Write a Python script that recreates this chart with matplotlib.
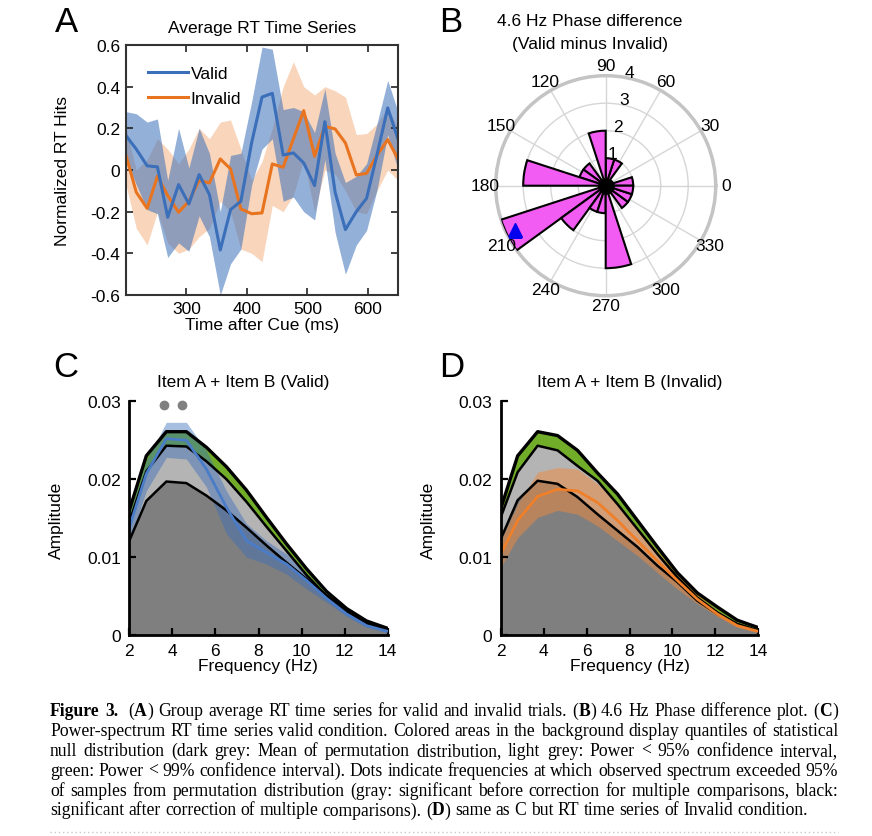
import numpy as np
import matplotlib
matplotlib.use('Agg')
import matplotlib.pyplot as plt
from matplotlib.lines import Line2D

# ---------------- data ----------------
# Panel A: average RT time series
times = [200, 217, 235, 252, 269, 287, 304, 321, 338, 356, 373, 390, 408, 425,
         442, 460, 477, 494, 512, 529, 546, 563, 581, 598, 615, 633, 650]
valid_mean = [0.165, 0.10, 0.02, 0.015, -0.227, -0.07, -0.163, -0.022, -0.118, -0.384,
              -0.19, -0.15, 0.133, 0.35, 0.368, 0.072, 0.082, 0.034, -0.075, 0.232,
              -0.107, -0.286, -0.20, -0.136, 0.07, 0.298, 0.149]
valid_hi = [0.28, 0.27, 0.23, 0.245, -0.05, 0.20, 0.01, 0.20, 0.08, -0.20, 0.07, 0.08,
            0.33, 0.59, 0.58, 0.29, 0.30, 0.28, 0.18, 0.39, 0.08, -0.06, -0.03, 0.03,
            0.22, 0.43, 0.28]
valid_lo = [0.05, -0.07, -0.19, -0.21, -0.42, -0.35, -0.39, -0.22, -0.32, -0.60, -0.45,
            -0.38, -0.07, 0.10, 0.15, -0.15, -0.13, -0.20, -0.24, 0.05, -0.30, -0.50,
            -0.36, -0.29, -0.10, 0.17, 0.0]
invalid_mean = [0.07, -0.107, -0.184, -0.03, -0.123, -0.203, -0.15, -0.05, -0.062, 0.053,
                0.005, -0.187, -0.21, -0.206, 0.029, 0.013, 0.15, 0.285, 0.066, 0.21,
                0.197, 0.13, -0.024, -0.016, 0.069, 0.146, 0.053]
invalid_hi = [0.20, 0.00, 0.05, 0.15, 0.10, 0.03, 0.10, 0.20, 0.15, 0.23, 0.24, 0.10,
              -0.05, 0.04, 0.20, 0.40, 0.52, 0.40, 0.36, 0.40, 0.38, 0.35, 0.17, 0.175,
              0.22, 0.30, 0.20]
invalid_lo = [-0.07, -0.28, -0.36, -0.20, -0.35, -0.40, -0.38, -0.32, -0.28, -0.15, -0.20,
              -0.38, -0.40, -0.44, -0.17, -0.20, -0.12, 0.05, -0.20, 0.00, -0.02, -0.10,
              -0.20, -0.21, -0.10, 0.00, -0.05]

# Panel B: phase-difference histogram (18-degree bins starting at 0)
bin_starts_deg = [0, 18, 36, 54, 72, 90, 108, 126, 144, 162,
                  180, 198, 216, 234, 252, 270, 288, 306, 324, 342]
phase_counts = [1, 0, 0, 1, 1, 2, 0, 1, 1, 3, 0, 4, 2, 1, 1, 3, 0, 1, 1, 1]
mean_phase_deg = 206
mean_phase_r = 3.65
theta_labels = ['0', '30', '60', '90', '120', '150', '180', '210', '240', '270', '300', '330']
r_labels = ['1', '2', '3', '4']

# Panels C/D: power spectra
freqs = [2.0, 2.79, 3.72, 4.65, 5.58, 6.51, 7.44, 8.37, 9.30, 10.23, 11.16, 12.09, 13.02, 13.95]
c_null99 = [0.0160, 0.0230, 0.0261, 0.0261, 0.0241, 0.0216, 0.0186, 0.0151, 0.0117, 0.0085, 0.0056, 0.0034, 0.0018, 0.0009]
c_null95 = [0.0145, 0.0210, 0.0243, 0.0242, 0.0223, 0.0200, 0.0171, 0.0139, 0.0108, 0.0077, 0.0050, 0.0030, 0.0015, 0.0007]
c_nullmean = [0.0121, 0.0172, 0.0197, 0.0195, 0.0179, 0.0160, 0.0138, 0.0115, 0.0093, 0.0072, 0.0051, 0.0031, 0.0016, 0.0008]
c_obs = [0.0138, 0.0207, 0.0252, 0.0250, 0.0213, 0.0164, 0.0121, 0.0106, 0.0091, 0.0070, 0.0047, 0.0027, 0.0012, 0.0005]
c_obs_hi = [0.0155, 0.0224, 0.0273, 0.0273, 0.0237, 0.0185, 0.0143, 0.0121, 0.0104, 0.0078, 0.0051, 0.0031, 0.0015, 0.0006]
c_obs_lo = [0.0121, 0.0185, 0.0228, 0.0226, 0.0190, 0.0130, 0.0100, 0.0091, 0.0078, 0.0059, 0.0042, 0.0024, 0.0010, 0.0003]
sig_freqs = [3.6, 4.45]
sig_level = 0.0295

d_null99 = [0.0162, 0.0230, 0.0261, 0.0256, 0.0237, 0.0208, 0.0181, 0.0147, 0.0113, 0.0080, 0.0054, 0.0036, 0.0019, 0.0010]
d_null95 = [0.0151, 0.0209, 0.0243, 0.0237, 0.0217, 0.0198, 0.0168, 0.0136, 0.0104, 0.0074, 0.0048, 0.0029, 0.0014, 0.0006]
d_nullmean = [0.0123, 0.0173, 0.0198, 0.0194, 0.0177, 0.0155, 0.0134, 0.0113, 0.0089, 0.0068, 0.0044, 0.0027, 0.0014, 0.0006]
d_obs = [0.0104, 0.0147, 0.0178, 0.0187, 0.0185, 0.0170, 0.0147, 0.0121, 0.0095, 0.0070, 0.0046, 0.0027, 0.0012, 0.0005]
d_obs_hi = [0.0121, 0.0168, 0.0209, 0.0215, 0.0213, 0.0194, 0.0168, 0.0138, 0.0108, 0.0078, 0.0053, 0.0031, 0.0015, 0.0006]
d_obs_lo = [0.0087, 0.0125, 0.0151, 0.0160, 0.0155, 0.0140, 0.0121, 0.0102, 0.0080, 0.0059, 0.0040, 0.0024, 0.0010, 0.0003]

caption_lines = [
    [("Figure 3.", True), ("  (", False), ("A", True),
     (") Group average RT time series for valid and invalid trials. (", False), ("B", True),
     (") 4.6 Hz Phase difference plot. (", False), ("C", True), (")", False)],
    [("Power-spectrum RT time series valid condition. Colored areas in the background display quantiles of statistical", False)],
    [("null distribution (dark grey: Mean of permutation distribution, light grey: Power < 95% confidence interval,", False)],
    [("green: Power < 99% confidence interval). Dots indicate frequencies at which observed spectrum exceeded 95%", False)],
    [("of samples from permutation distribution (gray: significant before correction for multiple comparisons, black:", False)],
    [("significant after correction of multiple comparisons). (", False), ("D", True),
     (") same as C but RT time series of Invalid condition.", False)],
]

# ---------------- figure ----------------
W, H = 872, 837
plt.rcParams['font.family'] = ['Liberation Sans', 'DejaVu Sans']
fig = plt.figure(figsize=(W / 100, H / 100), dpi=100)
FS = 12.5


def rect(l, t, r, b):
    return [l / W, 1 - b / H, (r - l) / W, (b - t) / H]


def ftext(x, y, s, **kw):
    kw.setdefault('ha', 'center')
    kw.setdefault('va', 'center')
    kw.setdefault('fontsize', FS)
    return fig.text(x / W, 1 - y / H, s, **kw)


BLUE = '#3b6fba'
ORANGE = '#e8741f'

# ---------------- Panel A ----------------
axA = fig.add_axes(rect(126, 46, 398, 296))
axA.fill_between(times, invalid_lo, invalid_hi, color=ORANGE, alpha=0.3, lw=0)
axA.plot(times, invalid_mean, color=ORANGE, lw=2.2, label='Invalid')
axA.fill_between(times, valid_lo, valid_hi, color=BLUE, alpha=0.55, lw=0)
axA.plot(times, valid_mean, color=BLUE, lw=2.2, label='Valid')
axA.set_xlim(200, 650)
axA.set_ylim(-0.6, 0.6)
axA.set_xticks([300, 400, 500, 600])
axA.set_yticks([-0.6, -0.4, -0.2, 0, 0.2, 0.4, 0.6])
axA.set_yticklabels(['-0.6', '-0.4', '-0.2', '0', '0.2', '0.4', '0.6'])
axA.tick_params(direction='in', top=True, right=True, length=5, width=1.2,
                labelsize=FS, pad=4, colors='#222222', labelcolor='black')
for sp in axA.spines.values():
    sp.set_linewidth(1.5)
    sp.set_color('#333333')
h, l = axA.get_legend_handles_labels()
axA.legend([h[1], h[0]], [l[1], l[0]], loc='upper left', bbox_to_anchor=(0.082, 0.915),
           frameon=False, fontsize=FS, handlelength=2.3, handletextpad=0.15,
           labelspacing=0.55, borderaxespad=0, borderpad=0)
ftext(262, 28, 'Average RT Time Series')
ftext(262, 326, 'Time after Cue (ms)')
ftext(62, 171, 'Normalized RT Hits', rotation=90)
ftext(66, 22, 'A', fontsize=25)

# ---------------- Panel B ----------------
cx, cy, R = 605.7, 186.7, 110
axB = fig.add_axes(rect(cx - R, cy - R, cx + R, cy + R), projection='polar')
axB.set_axisbelow(True)
axB.bar(np.deg2rad(bin_starts_deg), phase_counts, width=np.deg2rad(18), align='edge',
        color='#f25cf2', edgecolor='black', linewidth=1.5, zorder=3)
axB.plot([0], [0], 'o', color='black', ms=11, zorder=4)
axB.plot([np.deg2rad(mean_phase_deg)], [mean_phase_r], marker='^', color='#0000ee',
         ms=10, zorder=5, ls='none')
axB.set_ylim(0, 4)
axB.set_yticks([1, 2, 3, 4])
axB.set_yticklabels([])
axB.set_xticks(np.deg2rad(np.arange(0, 360, 30)))
axB.set_xticklabels([])
axB.grid(True, color='#d6d6d6', lw=1.0)
axB.spines['polar'].set_color('#c4c4c4')
axB.spines['polar'].set_linewidth(2.5)
for lab, ang in zip(theta_labels, range(0, 360, 30)):
    axB.text(np.deg2rad(ang), 4.37, lab, ha='center', va='center', fontsize=FS, clip_on=False)
for i, lab in enumerate(r_labels):
    axB.text(np.deg2rad(78), i + 1.2, lab, ha='center', va='center', fontsize=FS, zorder=6)
ftext(590, 22, '4.6 Hz Phase difference')
ftext(590, 45, '(Valid minus Invalid)')
ftext(451, 22, 'B', fontsize=25)


# ---------------- Panels C / D ----------------
def spectrum(ax, nmean, n95, n99, obs, lo, hi, col, band_col, band_alpha):
    ax.fill_between(freqs, 0, nmean, color='#7f7f7f', lw=0)
    ax.fill_between(freqs, nmean, n95, color='#b4b4b4', lw=0)
    ax.fill_between(freqs, n95, n99, color='#72ad2a', lw=0)
    ax.plot(freqs, n99, color='black', lw=2.4)
    ax.plot(freqs, n95, color='black', lw=1.8)
    ax.plot(freqs, nmean, color='black', lw=1.8)
    ax.fill_between(freqs, lo, hi, color=band_col, alpha=band_alpha, lw=0)
    ax.plot(freqs, obs, color=col, lw=2.0)
    ax.set_xlim(2, 14)
    ax.set_ylim(0, 0.03)
    ax.set_xticks([2, 4, 6, 8, 10, 12, 14])
    ax.set_yticks([0, 0.01, 0.02, 0.03])
    ax.set_yticklabels(['0', '0.01', '0.02', '0.03'])
    for s in ['top', 'right']:
        ax.spines[s].set_visible(False)
    for s in ['left', 'bottom']:
        ax.spines[s].set_linewidth(2.0)
        ax.spines[s].set_zorder(5)
    ax.tick_params(direction='in', length=5, width=1.6, labelsize=FS, pad=6)


axC = fig.add_axes(rect(129.3, 402.3, 387.7, 636))
spectrum(axC, c_nullmean, c_null95, c_null99, c_obs, c_obs_lo, c_obs_hi,
         '#4a7cc8', BLUE, 0.45)
axC.plot(sig_freqs, [sig_level] * len(sig_freqs), 'o', color='#808080', ms=6, clip_on=False)
ftext(243, 383, 'Item A + Item B (Valid)')
ftext(258, 667, 'Frequency (Hz)')
ftext(56, 520, 'Amplitude', rotation=90)
ftext(66, 368, 'C', fontsize=25)

axD = fig.add_axes(rect(500.7, 402.3, 758.3, 636))
spectrum(axD, d_nullmean, d_null95, d_null99, d_obs, d_obs_lo, d_obs_hi,
         '#f07f2a', '#f08a3c', 0.5)
ftext(630, 383, 'Item A + Item B (Invalid)')
ftext(630, 667, 'Frequency (Hz)')
ftext(428, 520, 'Amplitude', rotation=90)
ftext(452, 368, 'D', fontsize=25)

# ---------------- caption ----------------
renderer = fig.canvas.get_renderer()
SERIF = ['Liberation Serif', 'DejaVu Serif']


def tokenize(line):
    toks = []
    gap = 0
    for text, bold in line:
        parts = text.split(' ')
        for j, p in enumerate(parts):
            if j > 0:
                gap += 1
            if p == '':
                continue
            toks.append([p, bold, gap if toks else 0])
            gap = 0
    return toks


def measure(s, bold, size):
    t = fig.text(0, 0, s, fontsize=size, family=SERIF,
                 weight='bold' if bold else 'normal')
    w = t.get_window_extent(renderer).width
    t.remove()
    return w


def space_w(size):
    return measure('n n', False, size) - measure('nn', False, size)


x_left, x_right = 50, 838
target = x_right - x_left
tok_lines = [tokenize(l) for l in caption_lines]
base = 10.0
sp0 = space_w(base)
nat = []
for toks in tok_lines[:-1]:
    nat.append(sum(measure(t[0], t[1], base) for t in toks) + sp0 * sum(t[2] for t in toks))
cap_fs = base * target / max(nat)
sp = space_w(cap_fs)

baseline0 = 716
for li, toks in enumerate(tok_lines):
    widths = [measure(t[0], t[1], cap_fs) for t in toks]
    ngap = sum(t[2] for t in toks)
    if li < len(tok_lines) - 1 and ngap > 0:
        g = (target - sum(widths)) / ngap
    else:
        g = sp
    x = x_left
    yb = baseline0 + li * 19.9
    for (s, bold, gp), w in zip(toks, widths):
        x += gp * g
        fig.text(x / W, 1 - yb / H, s, fontsize=cap_fs, family=SERIF,
                 weight='bold' if bold else 'normal', ha='left', va='baseline')
        x += w

fig.add_artist(Line2D([50 / W, 838 / W], [1 - 833 / H] * 2, ls=(0, (1, 2)),
                      color='#c8c8c8', lw=1.0))

fig.savefig('out.png', dpi=100)
